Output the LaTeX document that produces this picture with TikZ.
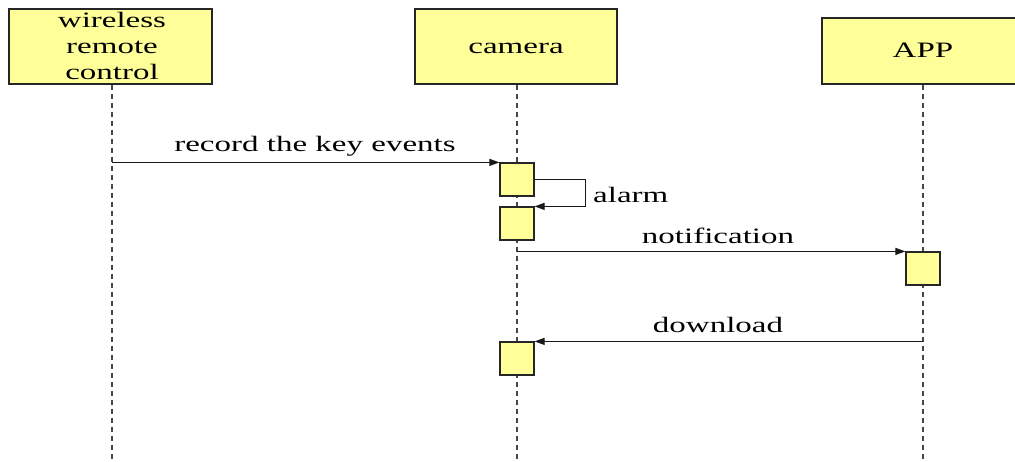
\documentclass[tikz,border=0pt]{standalone}
\usepackage{fontspec}
\setmainfont{Liberation Serif}
\usepackage{graphicx}
\usetikzlibrary{arrows.meta}
\definecolor{boxfill}{RGB}{255,255,153}
\definecolor{linegray}{RGB}{70,70,70}
\newcommand{\wide}[1]{\scalebox{1.5}[1]{#1}}
\tikzset{
  actor/.style={draw=black!85, line width=1.3pt, fill=boxfill, inner sep=0pt,
    font=\fontsize{22}{26}\selectfont, align=center},
  actbox/.style={draw=black!85, line width=1.2pt, fill=boxfill, minimum width=34pt, minimum height=33pt, inner sep=0pt},
  lifeline/.style={draw=linegray, line width=1.1pt, dash pattern=on 5pt off 4pt},
  msg/.style={draw=black!90, line width=1.1pt, -{Triangle[length=10pt,width=7pt]}},
  lbl/.style={font=\fontsize{22}{26}\selectfont, anchor=base, inner sep=0pt}
}
\begin{document}
\begin{tikzpicture}[x=1pt,y=-1pt]
\useasboundingbox[fill=white] (0,0) rectangle (1015,461);
% actors
\node[actor, minimum width=203pt, minimum height=75pt] (wrc) at (110.5,46.5) {};
\node[lbl] (wrct1) at (112,27) {\wide{wireless}};
\node[lbl] (wrct2) at (112,53) {\wide{remote}};
\node[lbl] (wrct3) at (112,79) {\wide{control}};
\node[actor, minimum width=202pt, minimum height=75pt] (cam) at (516,46.5) {};
\node[lbl] (camt) at (516,53) {\wide{camera}};
\node[actor, minimum width=203pt, minimum height=66pt] (app) at (923.5,51) {};
\node[lbl] (appt) at (923,57) {\wide{APP}};
% lifeline ends
\coordinate (wrcend) at (112,461);
\coordinate (camend) at (517,461);
\coordinate (append) at (923,461);
\draw[lifeline] (wrc.south -| wrcend) -- (wrcend);
\draw[lifeline] (cam.south -| camend) -- (camend);
\draw[lifeline] (app.south -| append) -- (append);
% activations
\node[actbox] (a1) at (517,179.5) {};
\node[actbox] (a2) at (517,223.5) {};
\node[actbox] (a3) at (923,268.5) {};
\node[actbox] (a4) at (517,358.5) {};
% messages
\draw[msg] (wrcend |- a1.north west) -- (a1.north west);
\node[lbl] (l1) at (315,151) {\wide{record the key events}};
\draw[msg] (a1.east) -- ++(51,0) |- (a2.north east);
\node[lbl, anchor=base west] (l2) at (593,202) {\wide{alarm}};
\draw[msg] (camend |- a3.north west) -- (a3.north west);
\node[lbl] (l3) at (718,243) {\wide{notification}};
\draw[msg] (append |- a4.north east) -- (a4.north east);
\node[lbl] (l4) at (718,332) {\wide{download}};
\end{tikzpicture}
\end{document}
